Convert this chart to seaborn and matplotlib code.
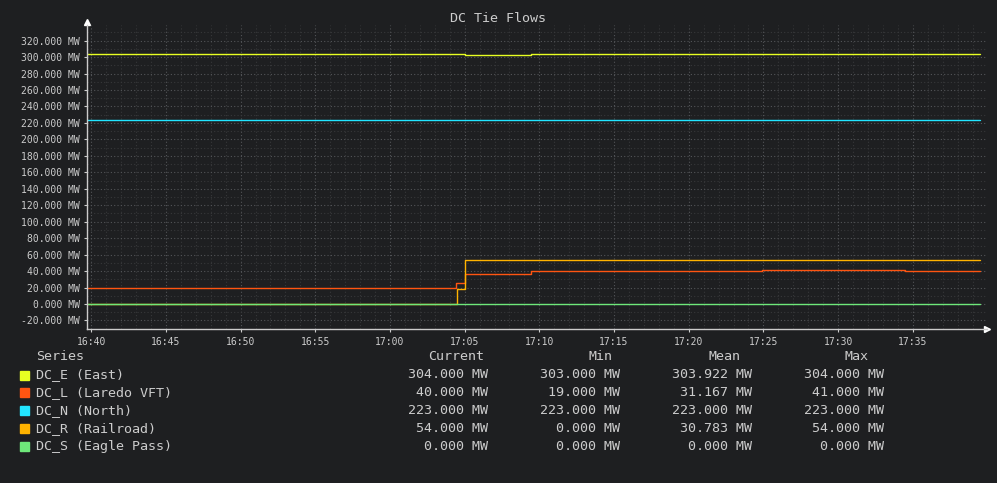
import pandas as pd
import numpy as np
import seaborn as sns
import matplotlib.pyplot as plt
import matplotlib.dates as mdates

# step series: change times (minutes after 16:40) and the value from that time on
t0 = pd.Timestamp("2024-01-01 16:40:00")
series_names = ["DC_E (East)", "DC_L (Laredo VFT)", "DC_N (North)", "DC_R (Railroad)", "DC_S (Eagle Pass)"]
colors = ["#e8ff22", "#ff5511", "#22e5ff", "#ffb300", "#6ee87a"]

e_min = [-0.3, 25.0, 29.47, 59.47]
e_val = [304, 303, 304, 304]
l_min = [-0.3, 24.43, 25.0, 29.47, 44.92, 54.45, 59.47]
l_val = [19, 25, 36, 40, 41, 40, 40]
n_min = [-0.3, 59.47]
n_val = [223, 223]
r_min = [-0.3, 24.48, 25.0, 59.47]
r_val = [0, 18, 54, 54]
s_min = [-0.3, 59.47]
s_val = [0, 0]

# legend table values as shown
cur = ["304.000 MW", "40.000 MW", "223.000 MW", "54.000 MW", "0.000 MW"]
mins = ["303.000 MW", "19.000 MW", "223.000 MW", "0.000 MW", "0.000 MW"]
means = ["303.922 MW", "31.167 MW", "223.000 MW", "30.783 MW", "0.000 MW"]
maxs = ["304.000 MW", "41.000 MW", "223.000 MW", "54.000 MW", "0.000 MW"]

frames = []
for name, m, v in zip(series_names, [e_min, l_min, n_min, r_min, s_min],
                      [e_val, l_val, n_val, r_val, s_val]):
    frames.append(pd.DataFrame({"time": t0 + pd.to_timedelta(m, unit="min"),
                                "MW": v, "series": name}))
df = pd.concat(frames, ignore_index=True)

bg = "#1e1f21"
fg = "#cccccc"
sns.set_theme(style="ticks")
plt.rcParams["font.family"] = ["DejaVu Sans Mono"]

W, H = 997, 483
fig = plt.figure(figsize=(W / 100, H / 100), dpi=100, facecolor=bg)
ax = fig.add_axes([86.7 / W, (H - 328.7) / H, (987 - 86.7) / W, (328.7 - 25) / H])
ax.set_facecolor(bg)

sns.lineplot(data=df, x="time", y="MW", hue="series", palette=colors,
             hue_order=series_names, estimator=None, drawstyle="steps-post",
             linewidth=1, legend=False, ax=ax)

ax.set_xlim(t0 - pd.Timedelta(seconds=18), t0 + pd.Timedelta(seconds=3598))
ax.set_ylim(-30, 339)
ax.xaxis.set_major_locator(mdates.MinuteLocator(byminute=range(0, 60, 5)))
ax.xaxis.set_minor_locator(mdates.MinuteLocator())
ax.xaxis.set_major_formatter(mdates.DateFormatter("%H:%M"))
ax.set_yticks(np.arange(-20, 321, 20))
ax.set_yticks(np.arange(-20, 331, 10), minor=True)
ax.yaxis.set_major_formatter(plt.FuncFormatter(lambda v, p: f"{v:.3f} MW"))

ax.grid(which="minor", color="#37383a", linestyle=(0, (1, 2)), linewidth=0.8)
ax.grid(which="major", color="#535558", linestyle=(0, (1, 2)), linewidth=0.8)
ax.set_axisbelow(True)
ax.set_xlabel("")
ax.set_ylabel("")

for s in ["top", "right"]:
    ax.spines[s].set_visible(False)
for s in ["left", "bottom"]:
    ax.spines[s].set_color(fg)
    ax.spines[s].set_linewidth(1)
ax.tick_params(which="major", colors=fg, labelsize=7, length=2, width=0.8, pad=3)
ax.tick_params(which="minor", length=0)
ax.tick_params(axis="x", pad=4)

ax.plot(0, 1.01, marker="^", color="white", markersize=4, transform=ax.transAxes, clip_on=False)
ax.plot(1, 0, marker=">", color="white", markersize=4, transform=ax.transAxes, clip_on=False)

def px(x, y):
    return x / W, 1 - y / H

fig.text(*px(498, 19), "DC Tie Flows", color=fg, fontsize=9.6, ha="center", va="center")

fs = 9.6
fig.text(*px(36, 356), "Series", color=fg, fontsize=fs, va="center")
for x, h in zip([428, 588, 708, 844], ["Current", "Min", "Mean", "Max"]):
    fig.text(*px(x, 356), h, color=fg, fontsize=fs, va="center")
for i, name in enumerate(series_names):
    y = 375 + i * 17.8
    fig.patches.append(plt.Rectangle(px(20, y + 4.5), 9 / W, 9 / H, color=colors[i],
                                     transform=fig.transFigure, figure=fig))
    fig.text(*px(36, y), name, color=fg, fontsize=fs, va="center")
    for x, vals in zip([488, 620, 752, 884], [cur, mins, means, maxs]):
        fig.text(*px(x, y), vals[i], color=fg, fontsize=fs, va="center", ha="right")

fig.savefig("out.png", dpi=100, facecolor=bg)
